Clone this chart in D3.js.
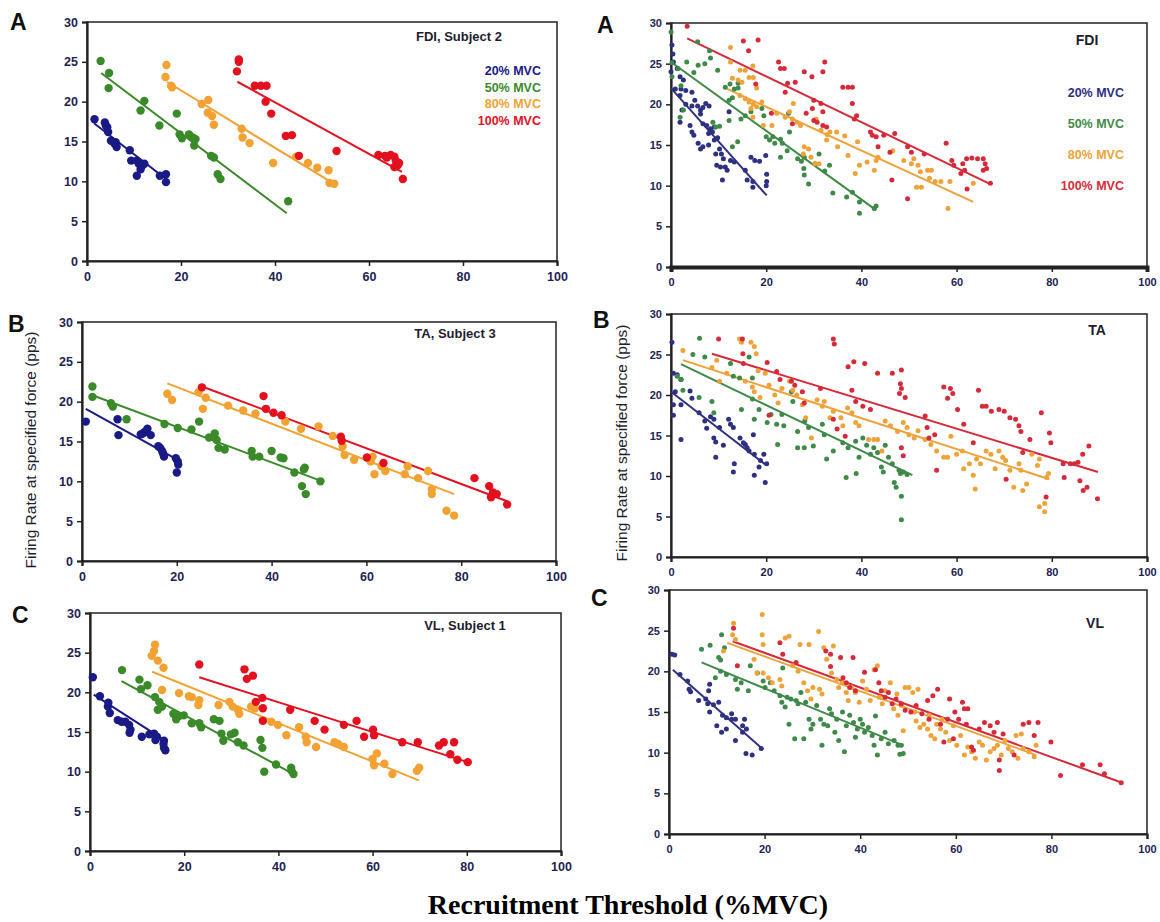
<!DOCTYPE html>
<html>
<head>
<meta charset="utf-8">
<script src="https://cdn.jsdelivr.net/npm/d3@7"></script>
<style>
  body { margin: 0; background: #fff; }
  svg text { font-family: Arial, "Liberation Sans", sans-serif; }
  .tick text { font-weight: bold; fill: #1d2352; }
</style>
</head>
<body>
<div id="wrapper"></div>
<script>
// ---- data (recruitment threshold %MVC, firing rate pps) ----
const seriesNames = ["20% MVC", "50% MVC", "80% MVC", "100% MVC"];
const xTicks = [0, 20, 40, 60, 80, 100];
const yTicks = [0, 5, 10, 15, 20, 25, 30];

// A left: FDI, Subject 2
const fdiS2_20 = [[1.6,17.8],[3.8,17.4],[4.0,17.0],[4.3,16.8],[4.5,16.2],[5.1,15.1],[6.1,14.9],[5.9,14.7],[6.3,14.3],[9.1,13.9],[9.4,12.6],[10.6,12.6],[10.6,10.7],[11.0,12.2],[11.4,11.5],[11.8,12.0],[12.2,12.2],[15.5,10.7],[16.8,10.9],[16.8,9.9]];
const fdiS2_50 = [[2.9,25.1],[4.7,23.6],[4.6,21.7],[12.2,20.1],[11.4,18.9],[15.4,17.0],[19.1,18.5],[19.7,15.9],[20.2,15.4],[21.7,15.9],[22.5,15.5],[23.1,15.3],[22.8,14.5],[26.4,13.2],[27.0,13.0],[27.8,10.9],[28.4,10.3],[42.8,7.5]];
const fdiS2_80 = [[16.9,24.6],[16.7,23.1],[17.9,22.0],[18.1,21.8],[24.4,19.7],[25.8,20.2],[25.7,18.6],[26.6,18.2],[27.0,17.1],[32.9,16.6],[33.1,15.5],[34.6,14.8],[39.6,12.3],[44.5,13.1],[47.0,12.3],[49.0,11.7],[51.4,11.4],[51.6,9.8],[52.6,9.7]];
const fdiS2_100 = [[31.9,23.8],[32.3,25.0],[32.3,25.3],[35.7,22.0],[37.0,22.0],[38.2,22.0],[38.0,20.0],[39.2,18.5],[42.3,15.7],[43.6,15.8],[45.1,13.2],[53.1,13.8],[62.0,13.3],[63.4,13.2],[63.8,13.0],[64.6,13.3],[65.4,13.1],[65.7,12.6],[66.1,12.0],[65.4,11.8],[66.4,12.3],[67.2,10.3]];
const fdiS2Fits = [[1.5,17.3,17,10.2],[3,23.6,42.5,6.0],[17,22.5,52.5,9.7],[32,22.5,67,11.2]];

// A right: FDI, pooled
const fdi_20 = [[0.2,27.3],[0.4,26.2],[0.5,25.2],[0,24.0],[1.3,24.4],[1.9,23.4],[2.6,23.0],[0.9,21.9],[2.1,21.9],[3.1,21.7],[1.9,21.1],[4.4,21.5],[5.0,20.5],[4.4,19.8],[3.1,20.0],[2.3,19.3],[1.9,17.8],[5.6,19.8],[6.2,19.3],[6.7,19.6],[7.3,20.1],[6.2,18.8],[4.0,17.4],[4.4,16.6],[4.8,16.2],[8.0,19.8],[6.7,17.6],[7.5,17.4],[8.3,17.0],[9.1,17.2],[7.9,16.4],[8.7,16.6],[5.7,15.2],[6.2,14.5],[6.7,14.8],[7.9,15.0],[9.1,15.6],[9.8,15.9],[10.2,14.5],[9.4,13.9],[10.6,13.9],[11.0,13.3],[10.4,12.3],[9.6,12.5],[11.4,12.3],[11.8,11.9],[10.8,10.7],[12.5,13.1],[13.3,12.9],[15.6,11.9],[16.0,10.7],[17.2,10.5],[17.2,9.8],[16.8,13.5],[17.6,13.1],[18.6,13.0],[19.9,13.7],[20.1,11.4],[20.1,10.5],[20.0,10.0],[12.2,19.1]];
const fdi_50 = [[0,28.9],[0.2,25.1],[0.2,23.4],[1.5,24.4],[2.1,22.3],[1.9,18.4],[2.6,19.3],[3.3,25.2],[5.6,27.7],[4.8,23.9],[5.7,24.8],[7.1,25.0],[8.3,25.7],[8.1,26.6],[9.8,24.2],[11.4,22.1],[12.4,22.5],[13.3,21.9],[14.1,22.0],[14.1,22.6],[12.2,20.5],[12.9,20.8],[8.8,17.8],[9.4,17.2],[10.2,17.3],[12.2,18.0],[14.7,18.2],[12.9,14.8],[14.0,15.4],[15.6,18.6],[16.8,19.1],[19.1,19.5],[19.5,18.6],[20.0,16.0],[20.7,15.6],[21.4,16.0],[21.8,15.2],[23.0,15.7],[23.4,15.2],[24.4,14.3],[23.0,13.5],[24.7,18.9],[24.9,16.6],[26.6,13.3],[27.4,13.0],[28.0,13.5],[27.9,12.1],[28.0,11.3],[28.9,10.2],[30.3,12.7],[31.1,13.9],[32.3,11.8],[34.0,9.1],[33.3,12.5],[36.9,8.6],[38.1,9.2],[39.6,8.0],[39.6,6.6],[42.7,7.2],[43.1,7.5]];
const fdi_80 = [[12.5,27.0],[12.5,25.2],[12.9,23.2],[14.1,23.0],[14.5,24.2],[14.9,22.7],[15.6,24.2],[16.4,23.3],[17.2,24.7],[17.3,23.3],[18.0,22.0],[14.5,21.1],[15.6,20.7],[16.4,20.3],[16.8,19.5],[17.3,20.0],[18.0,19.7],[19.1,20.3],[17.2,18.4],[19.4,17.4],[21.2,17.4],[22.2,18.9],[24.0,18.4],[24.9,19.1],[25.7,20.1],[25.5,18.2],[26.5,17.8],[27.2,17.4],[28.0,14.8],[28.9,14.5],[27.8,13.9],[29.4,13.5],[30.2,12.7],[31.1,12.7],[30.5,18.2],[31.5,16.8],[32.8,16.3],[33.4,16.6],[32.7,15.6],[34.8,16.6],[35.0,14.8],[36.5,16.1],[37.2,13.7],[38.7,11.5],[39.2,15.4],[39.6,12.5],[41.2,12.9],[42.7,11.9],[43.1,13.1],[43.5,13.5],[46.6,14.3],[48.9,13.1],[50.5,12.7],[51.0,13.3],[51.9,12.5],[52.4,11.7],[51.6,9.8],[52.6,9.8],[53.9,11.9],[54.7,11.9],[54.3,10.9],[55.5,10.5],[56.7,10.5],[58.2,7.2],[58.6,10.5],[63.5,10.3]];
const fdi_100 = [[3.4,29.6],[15.2,27.8],[18.3,27.9],[16.3,26.6],[17.8,22.5],[22.6,25.2],[23.0,24.4],[23.8,24.4],[24.5,22.6],[24.0,21.5],[26.1,22.7],[28.0,24.0],[29.6,23.4],[30.0,20.5],[29.7,19.5],[31.9,24.0],[32.3,25.2],[31.5,20.1],[31.9,19.1],[28.4,18.9],[30.0,18.0],[30.7,17.8],[25.5,17.6],[21.1,18.9],[31.9,17.4],[32.7,17.2],[36.1,22.1],[37.2,22.1],[38.1,22.1],[38.1,20.1],[39.0,18.6],[38.5,18.2],[41.9,16.6],[42.3,16.2],[43.1,16.0],[43.5,14.8],[44.7,16.2],[47.0,16.4],[46.0,14.1],[46.4,10.7],[49.7,14.8],[50.5,14.1],[49.7,8.4],[53.2,13.9],[57.8,15.2],[59.0,13.1],[59.4,12.5],[61.3,12.7],[61.7,11.9],[62.2,9.6],[62.1,13.3],[63.2,13.4],[64.4,13.3],[65.6,13.3],[66.0,12.7],[66.3,12.1],[65.6,11.9],[67.1,10.3],[60.9,11.5]];
const fdiFits = [[0,22.0,20.1,8.8],[0,25.2,43.1,7.0],[11.8,21.9,63.5,8.0],[3.4,28.1,67.1,10.2]];

// B left: TA, Subject 3
const taS3_20 = [[0.8,17.5],[7.5,17.8],[7.7,15.8],[12.4,15.9],[12.8,16.0],[13.2,16.2],[13.8,16.6],[14.5,15.8],[16.1,14.4],[16.5,14.2],[16.9,13.8],[17.1,13.5],[17.3,13.1],[19.8,12.9],[20.2,12.5],[20.3,12.1],[20.0,11.1]];
const taS3_50 = [[2.2,21.9],[2.2,20.6],[6.1,19.8],[6.5,19.4],[9.4,17.8],[17.4,17.2],[20.2,16.7],[23.1,16.5],[24.7,17.5],[28.0,16.0],[28.4,15.2],[26.8,15.5],[28.8,14.2],[30.1,14.0],[35.8,13.8],[36.0,13.1],[37.4,13.1],[40.0,13.8],[41.9,13.0],[42.5,12.9],[44.8,11.1],[46.8,11.5],[47.0,11.7],[46.4,9.4],[47.2,8.4],[50.3,10.0]];
const taS3_80 = [[18.0,21.0],[19.0,20.2],[24.6,21.2],[25.5,19.1],[26.1,20.5],[30.8,19.5],[34.0,18.9],[36.6,18.5],[42.9,17.5],[46.2,16.6],[49.9,16.9],[52.9,15.7],[55.0,14.4],[55.4,13.3],[57.4,12.7],[60.9,12.5],[61.3,13.1],[61.7,10.9],[63.2,11.9],[64.0,11.3],[68.1,10.9],[68.7,11.9],[70.9,10.4],[73.0,11.3],[73.8,9.0],[73.8,8.4],[76.9,6.3],[78.5,5.7]];
const taS3_100 = [[25.3,21.8],[38.3,20.7],[38.8,19.1],[40.4,18.6],[42.1,18.3],[54.6,15.6],[54.8,15.1],[60.1,13.0],[63.6,12.3],[82.8,10.4],[85.9,9.4],[86.7,8.6],[87.5,8.4],[86.3,8.0],[89.7,7.1]];
const taS3Fits = [[0.8,19.1,20.2,12.7],[2.2,20.8,50.7,10.0],[18.0,22.3,78.5,8.4],[24.9,22.0,89.7,7.5]];

// B right: TA, pooled
const ta_20 = [[0.2,26.5],[0.5,22.7],[1.3,22.5],[0.9,20.4],[0.5,18.8],[0.5,17.5],[2.1,21.9],[2.1,18.8],[2.1,14.5],[4.0,20.5],[4.4,19.6],[5.9,17.8],[7.1,16.8],[7.5,15.9],[8.3,17.3],[9.0,17.0],[9.4,12.3],[9.0,14.7],[9.4,14.2],[10.2,16.0],[11.0,13.8],[12.1,17.0],[12.5,16.4],[13.1,16.0],[13.3,11.5],[13.1,10.5],[14.5,14.7],[15.2,14.1],[15.6,13.9],[16.0,13.5],[17.3,15.1],[17.5,12.7],[17.5,10.1],[18.5,11.1],[18.8,11.9],[19.5,12.7],[20.1,11.5],[19.8,9.2],[16.4,13.1]];
const ta_50 = [[6.0,27.0],[4.6,25.0],[7.1,24.7],[1.3,22.3],[2.1,21.9],[2.5,20.6],[5.9,19.7],[8.6,19.2],[9.0,17.8],[12.5,23.9],[13.1,22.3],[14.4,22.1],[14.8,18.2],[16.4,24.7],[17.1,22.1],[17.1,19.5],[17.5,17.0],[18.5,18.2],[20.2,16.6],[21.0,17.6],[22.2,16.4],[22.4,13.9],[23.3,17.6],[23.7,16.2],[25.3,20.4],[25.6,19.2],[26.6,15.5],[26.6,13.5],[28.0,13.5],[28.1,16.8],[28.9,16.0],[29.9,13.7],[31.8,16.4],[32.2,15.1],[32.7,12.1],[34.1,13.1],[36.1,14.1],[36.8,9.8],[37.2,13.5],[38.8,14.3],[38.9,10.3],[39.5,12.3],[40.3,14.7],[41.1,13.8],[41.9,12.7],[42.6,13.5],[43.4,12.9],[44.2,11.1],[44.6,10.5],[45.0,13.8],[45.7,12.3],[46.5,11.5],[46.9,9.2],[47.3,8.6],[47.9,10.7],[48.2,10.3],[48.4,7.5],[48.4,4.6],[48.8,10.5],[49.6,10.2]];
const ta_80 = [[2.5,25.5],[8.6,23.4],[9.6,24.3],[10.2,21.7],[11.7,22.7],[14.4,26.9],[14.8,26.5],[16.8,26.5],[17.5,26.0],[17.9,25.1],[18.3,23.0],[15.6,21.7],[17.1,21.0],[17.5,20.4],[18.7,19.7],[19.8,22.7],[20.6,21.2],[21.8,20.0],[22.5,19.0],[23.3,20.8],[24.9,21.7],[25.6,20.6],[26.4,20.0],[27.6,18.8],[28.3,17.2],[29.5,14.7],[30.7,19.4],[31.8,18.6],[32.2,19.2],[33.4,17.2],[34.1,18.0],[35.7,17.2],[36.1,16.2],[37.1,18.4],[38.0,17.8],[38.8,16.6],[39.5,16.2],[41.5,14.5],[42.6,14.5],[43.4,14.5],[44.3,13.1],[45.0,16.8],[46.1,16.2],[47.6,15.5],[48.8,16.6],[49.6,16.0],[50.0,15.1],[51.1,14.7],[51.9,15.6],[53.4,14.5],[54.6,13.9],[55.8,13.1],[57.3,12.3],[58.1,12.3],[58.8,14.9],[60.0,12.7],[61.2,13.1],[61.5,10.9],[62.7,11.5],[63.5,10.1],[63.9,8.4],[64.2,12.1],[65.0,11.5],[66.2,13.1],[67.2,12.7],[68.1,10.9],[68.9,13.1],[69.7,12.3],[70.3,11.9],[71.2,10.7],[72.0,8.6],[73.1,11.5],[73.5,10.7],[73.9,8.2],[74.7,9.0],[75.8,12.7],[77.0,11.3],[77.4,12.1],[77.4,6.2],[78.5,6.6],[78.5,5.6],[78.9,9.8],[79.3,10.3]];
const ta_100 = [[10.0,26.9],[15.0,26.9],[15.1,25.1],[15.2,23.9],[20.2,24.0],[20.6,17.5],[22.2,22.9],[22.9,21.9],[25.3,21.7],[26.0,21.2],[27.6,20.4],[28.0,19.0],[31.4,20.8],[34.1,17.0],[34.9,15.8],[36.6,14.9],[34.1,26.9],[34.3,26.3],[37.2,23.5],[38.4,24.1],[38.0,20.6],[38.8,19.2],[40.7,23.9],[40.3,18.6],[41.9,18.2],[43.4,22.7],[46.5,22.7],[48.4,23.1],[48.2,21.4],[48.4,20.8],[48.0,20.2],[49.2,19.7],[48.4,13.5],[48.8,12.5],[53.4,17.4],[53.8,16.0],[54.2,14.7],[55.4,15.1],[55.8,10.7],[57.3,21.0],[58.1,19.6],[58.7,20.8],[59.2,20.2],[60.2,18.2],[61.5,16.4],[63.5,14.1],[64.6,20.6],[65.4,18.6],[66.2,18.6],[67.3,18.0],[68.9,18.2],[70.0,18.0],[70.4,9.6],[71.2,17.2],[72.4,17.0],[73.1,16.2],[73.5,15.5],[73.9,12.9],[75.4,14.5],[77.8,17.8],[78.8,7.4],[79.5,15.3],[79.8,14.1],[82.4,11.5],[82.6,9.8],[83.9,11.5],[84.7,11.5],[85.5,11.7],[85.9,9.4],[86.5,12.7],[86.6,8.2],[87.4,8.6],[87.8,13.7],[89.6,7.2]];
const taFits = [[0,20.4,20.1,11.3],[2.1,23.8,50.7,10.1],[2.5,24.3,79.5,9.6],[8.6,25.1,89.7,10.5]];

// C left: VL, Subject 1
const vlS1_20 = [[0.6,21.9],[2.1,19.5],[3.9,18.7],[3.8,18.2],[4.2,17.4],[5.9,16.5],[6.7,16.3],[7.5,16.3],[8.3,15.9],[8.6,15.3],[8.4,14.9],[11.0,14.4],[12.6,14.7],[13.6,14.8],[13.9,14.0],[14.2,14.4],[15.7,13.9],[15.6,13.5],[15.7,13.0],[16.0,12.7]];
const vlS1_50 = [[6.8,22.8],[10.5,21.6],[10.8,20.4],[12.2,20.9],[13.8,19.4],[14.7,18.8],[14.4,17.8],[15.3,18.2],[17.7,17.3],[18.3,16.6],[18.9,17.0],[19.9,17.1],[21.6,16.1],[23.2,16.1],[23.6,15.6],[26.3,16.6],[27.5,16.4],[27.9,14.8],[28.3,13.9],[29.9,14.7],[30.7,14.9],[31.4,13.7],[32.6,13.3],[36.2,14.0],[36.6,13.0],[37.0,10.0],[39.5,10.9],[42.7,10.5],[42.8,10.1],[43.2,9.7]];
const vlS1_80 = [[13.8,26.0],[13.6,25.2],[13.1,24.6],[14.4,24.0],[15.6,23.1],[15.3,20.3],[18.9,19.9],[21.0,19.5],[21.6,19.4],[23.2,19.0],[23.0,18.4],[27.3,18.4],[29.6,18.8],[30.3,18.2],[31.4,17.8],[31.7,17.3],[34.2,18.2],[35.0,18.0],[36.7,16.5],[38.5,16.3],[39.9,15.9],[41.7,14.6],[44.4,15.6],[45.8,14.4],[46.0,13.7],[48.0,13.1],[51.9,13.7],[52.7,13.5],[53.9,13.1],[60.0,11.6],[60.3,10.8],[60.9,12.3],[62.5,11.0],[64.2,9.7],[69.4,10.1],[69.9,10.5]];
const vlS1_100 = [[23.2,23.5],[32.8,22.9],[33.3,21.7],[34.6,22.1],[35.2,18.8],[36.6,19.3],[36.7,18.0],[36.7,16.4],[42.5,17.8],[47.7,16.4],[49.8,15.3],[53.9,15.9],[56.6,16.4],[58.2,14.4],[60.1,15.3],[60.3,14.6],[66.3,13.7],[69.6,13.7],[74.1,13.3],[75.1,13.7],[77.3,13.7],[76.5,12.2],[78.0,11.5],[80.2,11.2]];
const vlS1Fits = [[0.8,19.7,15.7,14.0],[6.7,21.4,43.2,9.7],[13.2,22.6,69.8,8.9],[23.2,21.9,80.2,11.2]];

// C right: VL, pooled
const vl_20 = [[0.6,22.1],[1.2,22.0],[2.3,19.6],[3.9,18.8],[4.2,17.8],[4.5,17.5],[6.2,16.4],[7.7,16.6],[8.1,16.0],[8.5,18.4],[8.3,17.6],[8.5,15.0],[9.3,15.9],[10.4,16.2],[10.0,13.3],[11.0,12.5],[11.2,14.6],[12.0,14.3],[12.0,12.9],[13.1,14.8],[13.9,11.5],[13.9,14.1],[15.4,13.3],[15.4,12.5],[15.8,14.1],[16.1,9.9],[16.2,12.9],[17.4,9.7],[19.3,10.5],[13.1,14.1]];
const vl_50 = [[6.8,22.7],[8.6,23.2],[11.0,24.5],[10.4,21.7],[10.8,21.4],[11.6,22.9],[9.7,19.2],[10.8,20.0],[12.0,19.6],[13.9,19.0],[15.1,18.6],[14.3,17.8],[16.6,17.6],[17.0,20.7],[18.5,19.8],[19.7,18.8],[20.1,18.0],[21.2,18.6],[22.0,17.6],[23.2,17.0],[23.6,16.2],[23.8,20.4],[24.3,15.6],[24.7,16.8],[25.1,13.5],[25.5,16.6],[26.3,11.7],[26.6,16.4],[27.0,16.0],[27.6,17.4],[28.2,11.7],[28.6,16.2],[29.3,14.1],[29.7,12.9],[30.1,13.5],[30.9,15.8],[31.7,14.1],[32.0,10.9],[32.4,13.5],[33.2,13.3],[33.6,15.4],[34.0,14.8],[34.7,12.5],[35.1,14.1],[35.5,11.5],[36.3,15.0],[36.7,10.1],[37.1,13.3],[37.8,14.6],[38.6,13.7],[39.0,11.9],[39.4,12.9],[40.0,14.1],[40.5,13.5],[40.9,12.5],[41.7,13.1],[42.5,12.1],[42.9,10.9],[43.2,14.5],[43.6,9.7],[44.4,11.7],[45.2,12.5],[45.9,11.1],[47.1,11.5],[47.9,10.9],[48.6,10.9],[48.3,9.8],[49.0,9.9]];
const vl_80 = [[11.4,22.5],[13.3,24.5],[13.5,25.9],[13.9,23.9],[19.5,27.0],[19.5,24.5],[19.7,23.3],[17.8,21.5],[18.4,19.8],[19.7,19.8],[20.8,19.2],[21.6,18.6],[23.2,19.0],[23.6,18.2],[24.3,24.1],[25.1,24.3],[25.9,20.7],[27.0,20.0],[27.4,23.3],[28.2,18.6],[29.0,17.6],[29.3,23.3],[29.7,16.6],[30.1,18.0],[31.3,24.9],[31.5,17.8],[32.0,17.2],[32.4,22.9],[33.0,21.5],[34.0,19.8],[34.4,23.1],[35.1,19.0],[35.5,18.0],[36.3,18.6],[37.1,17.4],[37.5,16.4],[38.2,18.0],[39.0,17.4],[39.8,16.2],[40.5,18.8],[41.3,17.8],[42.1,16.4],[42.9,20.2],[43.6,20.7],[44.0,16.8],[44.6,16.0],[45.2,17.6],[46.3,18.6],[47.0,15.4],[47.7,17.2],[47.9,14.6],[48.6,15.8],[49.0,12.7],[49.4,18.0],[50.2,18.0],[51.0,17.4],[51.4,15.0],[51.7,13.9],[52.1,17.8],[52.5,13.1],[53.3,13.5],[54.1,12.9],[54.4,14.6],[54.8,12.1],[55.6,11.7],[56.0,13.5],[56.8,12.9],[57.1,14.1],[57.9,12.5],[58.7,11.5],[59.5,13.3],[60.2,10.9],[61.0,12.1],[61.8,9.7],[62.5,10.7],[63.3,10.1],[64.1,9.3],[64.9,11.3],[65.6,10.9],[66.4,9.1],[67.2,10.1],[68.0,10.5],[68.7,10.9],[69.5,9.7],[70.3,11.5],[71.0,10.5],[71.8,10.1],[72.6,12.1],[73.0,9.3],[73.7,12.3],[74.1,10.5],[75.3,10.1],[76.4,9.5],[76.8,10.9]];
const vl_100 = [[13.5,25.3],[14.3,20.7],[23.2,23.5],[23.8,22.1],[26.6,21.1],[32.8,22.5],[33.8,22.1],[33.8,20.6],[35.9,21.7],[38.5,21.7],[36.4,19.2],[37.1,18.6],[37.8,18.0],[39.0,17.6],[40.9,19.9],[43.2,20.2],[43.9,18.6],[44.4,17.6],[45.2,16.8],[45.9,17.4],[46.7,16.0],[47.5,16.6],[48.6,16.0],[49.4,15.2],[50.6,15.0],[51.7,15.8],[52.9,14.8],[54.1,16.4],[54.4,14.1],[55.2,17.0],[56.2,17.8],[56.8,13.5],[57.5,11.3],[58.3,14.1],[58.7,16.6],[59.5,11.7],[59.8,15.0],[60.6,14.1],[61.4,16.2],[61.8,15.4],[62.2,13.5],[62.5,15.4],[63.3,10.7],[63.7,10.3],[64.9,12.9],[66.0,13.7],[67.2,13.3],[68.0,12.5],[68.7,13.7],[69.1,9.1],[69.1,7.8],[69.9,12.3],[72.2,9.7],[74.1,13.5],[75.3,13.7],[76.4,12.1],[77.2,13.7],[79.9,11.3],[81.9,7.2],[86.5,8.5],[90.2,8.5],[91.1,7.4],[94.6,6.3]];
const vlFits = [[0.8,20.2,19.7,10.4],[6.8,21.1,49.0,10.9],[12.2,23.5,76.8,9.7],[13.3,23.7,94.8,6.3]];

// ---- layout ----
const colorsLeft = ["#1a1a86", "#3a8a2a", "#f2a233", "#e3101f"];
const colorsRight = ["#2e3080", "#3f8a48", "#eda23a", "#d62a3a"];

const panels = [
  { letter: "A", title: "FDI, Subject 2", series: [fdiS2_20, fdiS2_50, fdiS2_80, fdiS2_100], fits: fdiS2Fits,
    box: { left: 87, right: 557, top: 22, bottom: 261 }, pooled: false, legend: { x: 541, y: 75, dy: 16.5 },
    titlePos: [459, 41], letterPos: [10, 30] },
  { letter: "A", title: "FDI", series: [fdi_20, fdi_50, fdi_80, fdi_100], fits: fdiFits,
    box: { left: 671, right: 1147, top: 23, bottom: 267 }, pooled: true, legend: { x: 1124, y: 97, dy: 31 },
    titlePos: [1087, 45], letterPos: [597, 33] },
  { letter: "B", title: "TA, Subject 3", series: [taS3_20, taS3_50, taS3_80, taS3_100], fits: taS3Fits,
    box: { left: 82, right: 556, top: 322, bottom: 561 }, pooled: false,
    titlePos: [455, 338], letterPos: [8, 332] },
  { letter: "B", title: "TA", series: [ta_20, ta_50, ta_80, ta_100], fits: taFits,
    box: { left: 671, right: 1147, top: 314, bottom: 557 }, pooled: true,
    titlePos: [1097, 335], letterPos: [593, 328] },
  { letter: "C", title: "VL, Subject 1", series: [vlS1_20, vlS1_50, vlS1_80, vlS1_100], fits: vlS1Fits,
    box: { left: 90, right: 561, top: 613, bottom: 851 }, pooled: false,
    titlePos: [465, 630], letterPos: [12, 623] },
  { letter: "C", title: "VL", series: [vl_20, vl_50, vl_80, vl_100], fits: vlFits,
    box: { left: 669, right: 1147, top: 590, bottom: 834 }, pooled: true,
    titlePos: [1095, 628], letterPos: [591, 606] },
];

const svg = d3.select("#wrapper")
  .append("svg")
  .attr("width", 1160)
  .attr("height", 922);

panels.forEach(drawPanel);

function drawPanel(p) {
  const b = p.box;
  const x = d3.scaleLinear().domain([0, 100]).range([b.left, b.right]);
  const y = d3.scaleLinear().domain([0, 30]).range([b.bottom, b.top]);
  const colors = p.pooled ? colorsRight : colorsLeft;
  const g = svg.append("g");

  // frame
  g.append("rect")
    .attr("x", b.left).attr("y", b.top)
    .attr("width", b.right - b.left).attr("height", b.bottom - b.top)
    .attr("fill", "none").attr("stroke", "#222").attr("stroke-width", 1.5);

  // axes
  const yAxis = g.append("g")
    .attr("transform", `translate(${b.left},0)`)
    .call(d3.axisLeft(y).tickValues(yTicks).tickSize(5).tickPadding(4).tickFormat(d3.format("d")));
  const xAxis = g.append("g")
    .attr("transform", `translate(0,${b.bottom})`)
    .call(d3.axisBottom(x).tickValues(xTicks).tickSize(5).tickPadding(6).tickFormat(d3.format("d")));
  [yAxis, xAxis].forEach((a) => {
    a.select(".domain").attr("stroke", "#222").attr("stroke-width", 2.2);
    a.selectAll(".tick line").attr("stroke", "#222").attr("stroke-width", 1.5);
    a.selectAll(".tick text").style("font-size", p.pooled ? "11px" : "12.5px");
  });
  if (p.pooled && p.letter === "A") xAxis.select(".domain").attr("stroke-width", 4);

  // regression lines
  g.selectAll(".fit")
    .data(p.fits)
    .join("line")
    .attr("class", "fit")
    .attr("x1", (d) => x(d[0])).attr("y1", (d) => y(d[1]))
    .attr("x2", (d) => x(d[2])).attr("y2", (d) => y(d[3]))
    .attr("stroke", (d, i) => colors[i])
    .attr("stroke-width", 2);

  // points
  p.series.forEach((pts, i) => {
    g.append("g")
      .attr("fill", colors[i])
      .selectAll("circle")
      .data(pts)
      .join("circle")
      .attr("cx", (d) => x(d[0]))
      .attr("cy", (d) => y(d[1]))
      .attr("r", p.pooled ? 2.5 : 4.2);
  });

  // panel title
  g.append("text")
    .attr("x", p.titlePos[0]).attr("y", p.titlePos[1])
    .attr("text-anchor", "middle")
    .style("font-size", p.pooled ? "14px" : "13px")
    .style("font-weight", "bold")
    .attr("fill", "#1d1d2e")
    .text(p.title);

  // panel letter
  g.append("text")
    .attr("x", p.letterPos[0]).attr("y", p.letterPos[1])
    .style("font-size", "23px")
    .style("font-weight", "bold")
    .attr("fill", "#111")
    .text(p.letter);

  // legend
  if (p.legend) {
    g.selectAll(".legend")
      .data(seriesNames)
      .join("text")
      .attr("class", "legend")
      .attr("x", p.legend.x)
      .attr("y", (d, i) => p.legend.y + i * p.legend.dy)
      .attr("text-anchor", "end")
      .style("font-size", "12.5px")
      .style("font-weight", "bold")
      .attr("fill", (d, i) => colors[i])
      .text((d) => d);
  }
}

// shared axis titles
[[36, 450], [627, 443]].forEach(([tx, ty]) => {
  svg.append("text")
    .attr("transform", `translate(${tx},${ty}) rotate(-90)`)
    .attr("text-anchor", "middle")
    .style("font-size", "15.5px")
    .attr("fill", "#1d1d2e")
    .text("Firing Rate at specified force (pps)");
});

svg.append("text")
  .attr("x", 628).attr("y", 914)
  .attr("text-anchor", "middle")
  .style("font-family", "'Liberation Serif', 'Times New Roman', serif")
  .style("font-size", "28px")
  .style("font-weight", "bold")
  .attr("fill", "#000")
  .text("Recruitment Threshold (%MVC)");
</script>
</body>
</html>
